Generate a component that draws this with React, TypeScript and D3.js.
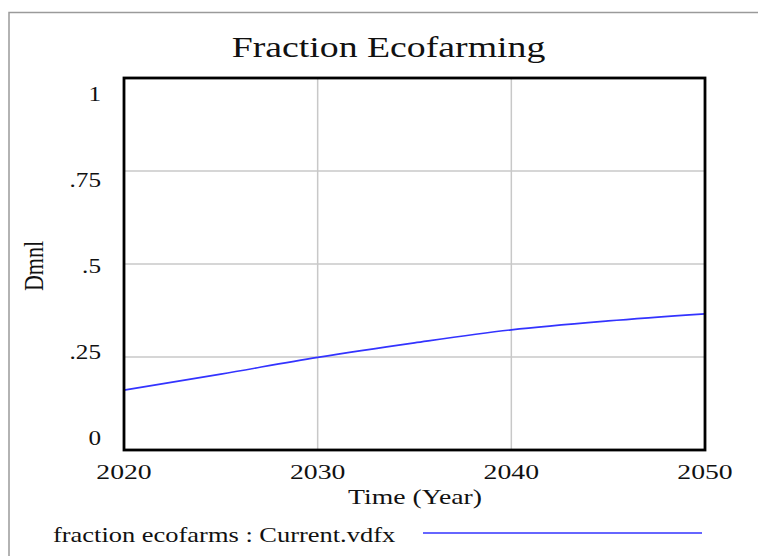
import React, { useRef, useEffect } from "react";
import * as d3 from "d3";

// values (every 5 years)
const years = [2020, 2025, 2030, 2035, 2040, 2045, 2050];
const fractionEcofarms = [0.161, 0.204, 0.249, 0.288, 0.323, 0.347, 0.366];
const xTicks = [2020, 2030, 2040, 2050];
const yTicks = [0, 0.25, 0.5, 0.75, 1];

const title = "Fraction Ecofarming";
const xLabel = "Time (Year)";
const yLabel = "Dmnl";
const legendLabel = "fraction ecofarms : Current.vdfx";

const App = () => {
  const svgRef = useRef<SVGSVGElement>(null);

  useEffect(() => {
    const svg = d3.select(svgRef.current);
    svg.selectAll("*").remove();

    const width = 758;
    const height = 556;
    const plot = { left: 124, right: 705, top: 78, bottom: 450 };
    const stretch = 1.26; // the original picture is widened a bit
    const font = "'Liberation Serif', 'Times New Roman', serif";

    const x = d3.scaleLinear().domain([2020, 2050]).range([plot.left, plot.right]);
    const y = d3.scaleLinear().domain([0, 1]).range([plot.bottom, plot.top]);
    // Vensim spreads the y labels inside the frame
    const yLab = d3.scaleLinear().domain([0, 1]).range([438, 94]);

    svg.append("rect").attr("width", width).attr("height", height).attr("fill", "#fff");

    // outer frame
    svg
      .append("rect")
      .attr("x", 9)
      .attr("y", 12.5)
      .attr("width", width + 20)
      .attr("height", height + 20)
      .attr("fill", "none")
      .attr("stroke", "#9a9a9a")
      .attr("stroke-width", 1.5);

    const text = (
      str: string,
      tx: number,
      ty: number,
      size: number,
      anchor: string,
      rotate = 0
    ) =>
      svg
        .append("text")
        .attr("transform", `translate(${tx},${ty}) scale(${stretch},1) rotate(${rotate})`)
        .attr("text-anchor", anchor)
        .attr("font-family", font)
        .attr("font-size", size)
        .attr("fill", "#111")
        .text(str);

    text(title, 388.5, 56.5, 30, "middle");

    // grid
    svg
      .append("g")
      .selectAll("line")
      .data(xTicks.slice(1, -1))
      .join("line")
      .attr("x1", (d) => x(d))
      .attr("x2", (d) => x(d))
      .attr("y1", plot.top)
      .attr("y2", plot.bottom)
      .attr("stroke", "#c8c8c8")
      .attr("stroke-width", 1.5);

    svg
      .append("g")
      .selectAll("line")
      .data(yTicks.slice(1, -1))
      .join("line")
      .attr("x1", plot.left)
      .attr("x2", plot.right)
      .attr("y1", (d) => y(d))
      .attr("y2", (d) => y(d))
      .attr("stroke", "#c8c8c8")
      .attr("stroke-width", 1.5);

    // series
    const line = d3
      .line<number>()
      .x((d, i) => x(years[i]))
      .y((d) => y(d))
      .curve(d3.curveMonotoneX);

    svg
      .append("path")
      .datum(fractionEcofarms)
      .attr("fill", "none")
      .attr("stroke", "#3333ff")
      .attr("stroke-width", 1.6)
      .attr("d", line);

    // plot frame
    svg
      .append("rect")
      .attr("x", plot.left)
      .attr("y", plot.top)
      .attr("width", plot.right - plot.left)
      .attr("height", plot.bottom - plot.top)
      .attr("fill", "none")
      .attr("stroke", "#000")
      .attr("stroke-width", 2.8);

    // tick labels
    const fmt = (v: number) => (v === 0 || v === 1 ? String(v) : String(v).replace(/^0/, ""));
    yTicks.forEach((v) => {
      text(fmt(v), 101, yLab(v) + 7, 20, "end");
    });
    xTicks.forEach((v) => {
      text(String(v), x(v), 478.5, 22, "middle");
    });

    text(xLabel, 415, 504, 22, "middle");
    text(yLabel, 43, 266, 22, "middle", -90);

    // legend
    text(legendLabel, 53, 541.5, 21, "start");
    svg
      .append("line")
      .attr("x1", 423)
      .attr("x2", 702)
      .attr("y1", 533)
      .attr("y2", 533)
      .attr("stroke", "#3333ff")
      .attr("stroke-width", 1.6);
  }, []);

  return (
    <svg
      ref={svgRef}
      width={758}
      height={556}
      style={{ position: "absolute", left: 0, top: 0, display: "block" }}
    ></svg>
  );
};

export default App;
